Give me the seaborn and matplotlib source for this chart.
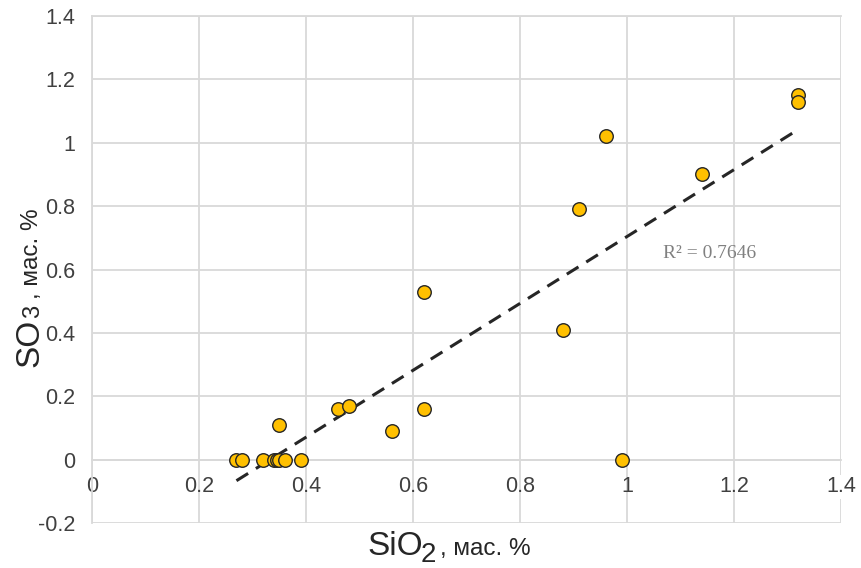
import numpy as np
import pandas as pd
import matplotlib
matplotlib.use('Agg')
import matplotlib.pyplot as plt
import seaborn as sns

# SiO2 vs SO3, mass %
sio2 = [0.27, 0.28, 0.32, 0.34, 0.345, 0.35, 0.36, 0.39, 0.35, 0.46, 0.48,
        0.56, 0.62, 0.62, 0.88, 0.99, 0.91, 0.96, 1.14, 1.32, 1.32]
so3 = [0.0, 0.0, 0.0, 0.0, 0.0, 0.0, 0.0, 0.0, 0.11, 0.16, 0.17,
       0.09, 0.16, 0.53, 0.41, 0.0, 0.79, 1.02, 0.90, 1.15, 1.13]
r2_label = 'R² = 0.7646'
ticks_x = [0, 0.2, 0.4, 0.6, 0.8, 1, 1.2, 1.4]
ticks_y = [-0.2, 0, 0.2, 0.4, 0.6, 0.8, 1, 1.2, 1.4]

df = pd.DataFrame({'SiO2': sio2, 'SO3': so3})

sns.set_style('whitegrid')
plt.rcParams['font.family'] = ['Liberation Sans', 'DejaVu Sans']

W, H = 861, 568
fig = plt.figure(figsize=(W / 100, H / 100), dpi=100)
ax = fig.add_axes([92 / W, 1 - 523 / H, (841 - 92) / W, (523 - 16) / H])

grid_c = '#d9d9d9'

# linear trend line (least squares, like Excel)
k, b = np.polyfit(df['SiO2'], df['SO3'], 1)
xl = np.array([df['SiO2'].min(), df['SiO2'].max()])
ax.plot(xl, k * xl + b, color='#262626', lw=2.2, ls=(0, (4.5, 3)), zorder=2)

sns.scatterplot(data=df, x='SiO2', y='SO3', ax=ax, s=95, color='#FFC000',
                edgecolor='#262626', linewidth=1.0, zorder=3, legend=False)

ax.set_xlim(0, 1.4)
ax.set_ylim(-0.2, 1.4)
ax.set_xticks(ticks_x)
ax.set_yticks(ticks_y)
ax.set_xticklabels(['0', '0.2', '0.4', '0.6', '0.8', '1', '1.2', '1.4'])
ax.set_yticklabels(['-0.2', '0', '0.2', '0.4', '0.6', '0.8', '1', '1.2', '1.4'])
ax.grid(True, color=grid_c, lw=1.3)
for sp in ax.spines.values():
    sp.set_color(grid_c)
    sp.set_linewidth(1.3)
ax.spines['right'].set_visible(False)
ax.spines['bottom'].set_position(('data', 0))
ax.tick_params(axis='both', length=0, labelsize=15.5, colors='#404040')
ax.tick_params(axis='x', pad=12)
ax.tick_params(axis='y', pad=12)
ax.get_xticklabels()[-1].set_bbox(dict(facecolor='white', edgecolor='none', pad=1))
ax.set_xlabel('')
ax.set_ylabel('')

ax.text(1.155, 0.652, r2_label, fontsize=14, color='#808080',
        family='Liberation Serif', ha='center', va='center')

# x label: SiO2, мас. %
fig.text(367 / W, 1 - 555 / H, 'SiO', fontsize=24, ha='left', va='baseline')
fig.text(421 / W, 1 - 562 / H, '2', fontsize=20, ha='left', va='baseline')
fig.text(440 / W, 1 - 555 / H, ', мас. %', fontsize=17.5, ha='left', va='baseline')

# y label: SO3, мас. %
fig.text(38 / W, 1 - 367 / H, 'SO', fontsize=24, rotation=90,
         rotation_mode='anchor', ha='left', va='baseline')
fig.text(39 / W, 1 - 318 / H, '3', fontsize=17, rotation=90,
         rotation_mode='anchor', ha='left', va='baseline')
fig.text(38 / W, 1 - 299 / H, ', мас. %', fontsize=17.5, rotation=90,
         rotation_mode='anchor', ha='left', va='baseline')

fig.savefig('out.png', dpi=100)
